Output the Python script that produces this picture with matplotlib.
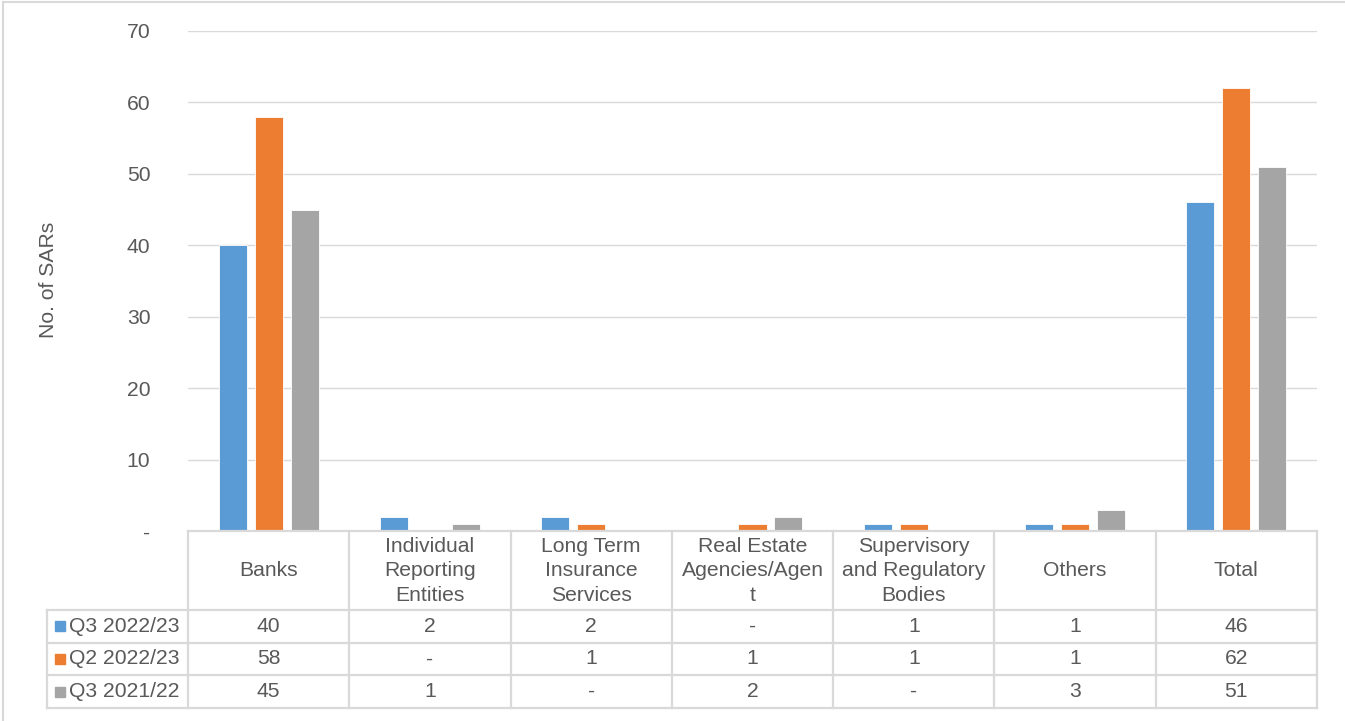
import matplotlib
matplotlib.use("Agg")
import matplotlib.pyplot as plt
import numpy as np

plt.rcParams['font.family'] = ['Liberation Sans', 'DejaVu Sans']

categories = ['Banks', 'Individual\nReporting\nEntities', 'Long Term\nInsurance\nServices',
              'Real Estate\nAgencies/Agen\nt', 'Supervisory\nand Regulatory\nBodies',
              'Others', 'Total']
series_names = ['Q3 2022/23', 'Q2 2022/23', 'Q3 2021/22']
q3_2022 = [40, 2, 2, 0, 1, 1, 46]
q2_2022 = [58, 0, 1, 1, 1, 1, 62]
q3_2021 = [45, 1, 0, 2, 0, 3, 51]
colors = ['#5B9BD5', '#ED7D31', '#A5A5A5']

W, H = 1345, 721
TEXT = '#595959'
LINE = '#D9D9D9'
FS = 15.2


def box(x0, y0, x1, y1):
    # pixel box (top-left origin) -> figure fraction rect
    return [x0 / W, 1 - y1 / H, (x1 - x0) / W, (y1 - y0) / H]


fig = plt.figure(figsize=(W / 100, H / 100), dpi=100)

# outer chart border (top and left edges)
fig.add_artist(plt.Line2D([2.5 / W, 2.5 / W], [0, 1 - 1.5 / H], color=LINE, lw=1.5))
fig.add_artist(plt.Line2D([2.5 / W, 1], [1 - 1.5 / H, 1 - 1.5 / H], color=LINE, lw=1.5))

# bar chart
ax = fig.add_axes(box(188, 31, 1317, 531))
x = np.arange(len(categories))
bw = 0.174
step = 0.223
all_series = [q3_2022, q2_2022, q3_2021]
for i, vals in enumerate(all_series):
    ax.bar(x + (i - 1) * step, vals, width=bw, color=colors[i],
           edgecolor='white', linewidth=0.6, zorder=3)

ax.set_xlim(-0.5, len(categories) - 0.5)
ax.set_ylim(0, 70)
ax.set_yticks(range(0, 71, 10))
ax.set_yticklabels(['-'] + [str(v) for v in range(10, 71, 10)])
ax.set_xticks([])
ax.tick_params(axis='y', length=0, pad=27, labelsize=FS, labelcolor=TEXT)
ax.grid(axis='y', color=LINE, lw=1.0, zorder=0)
for s in ax.spines.values():
    s.set_visible(False)
fig.text(48 / W, 1 - 280 / H, 'No. of SARs', rotation=90, ha='center', va='center',
         fontsize=FS, color=TEXT)

# data table underneath
col_px = 1129 / 7
leg_px = 141
xl = -0.5 - leg_px / col_px
tab = fig.add_axes(box(47, 531, 1317, 708))
tab.set_xlim(xl, len(categories) - 0.5)
tab.set_ylim(177, 0)
tab.axis('off')

row_edges = [0, 79, 111.5, 144, 177]
lkw = dict(color=LINE, lw=1.6, clip_on=False, solid_capstyle='projecting')
# horizontal lines
tab.plot([-0.5, len(categories) - 0.5], [row_edges[0]] * 2, **lkw)
for yy in row_edges[1:]:
    tab.plot([xl, len(categories) - 0.5], [yy, yy], **lkw)
# vertical lines
tab.plot([xl, xl], [row_edges[1], row_edges[-1]], **lkw)
for k in range(len(categories) + 1):
    xx = k - 0.5
    tab.plot([xx, xx], [row_edges[0], row_edges[-1]], **lkw)

for j, name in enumerate(categories):
    tab.text(j, (row_edges[0] + row_edges[1]) / 2 + 0.5, name, ha='center', va='center',
             fontsize=FS, color=TEXT, linespacing=1.38)

for i, vals in enumerate(all_series):
    yc = (row_edges[i + 1] + row_edges[i + 2]) / 2
    tab.plot([xl + 13 / col_px], [yc], marker='s', markersize=7.2, color=colors[i],
             linestyle='none', clip_on=False)
    tab.text(xl + 22 / col_px, yc, series_names[i], ha='left', va='center',
             fontsize=FS, color=TEXT)
    for j, v in enumerate(vals):
        tab.text(j, yc, '-' if v == 0 else str(v), ha='center', va='center',
                 fontsize=FS, color=TEXT)

fig.savefig('out.png', dpi=100)
